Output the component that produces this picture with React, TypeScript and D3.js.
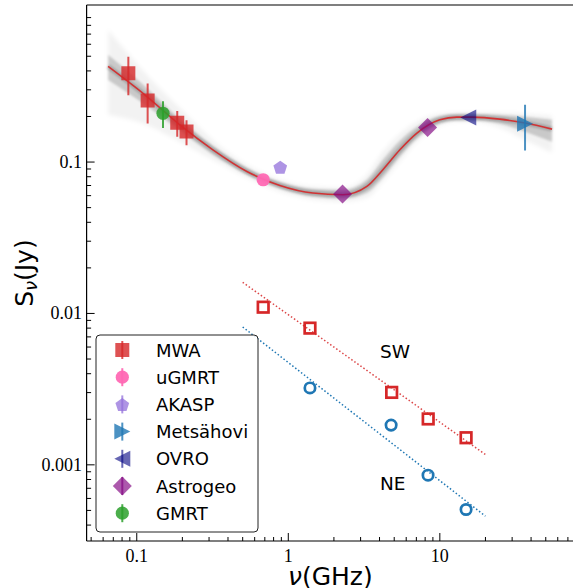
import React from "react";
import * as d3 from "d3";

// ---------- data ----------
const mwaFreq = [0.088, 0.118, 0.185, 0.213];
const mwaFlux = [0.386, 0.255, 0.182, 0.159];
const mwaErr = [0.11, 0.075, 0.035, 0.03];

const gmrtFreq = [0.149];
const gmrtFlux = [0.21];
const gmrtErr = [0.042];

const ugmrtFreq = [0.683];
const ugmrtFlux = [0.0764];

const akaspFreq = [0.885];
const akaspFlux = [0.0927];

const metsFreq = [36.5];
const metsFlux = [0.179];
const metsErr = [0.06];

const ovroFreq = [15.4];
const ovroFlux = [0.197];

const astroFreq = [2.28, 8.3];
const astroFlux = [0.0615, 0.169];

// model fit curve and posterior band
const bandFreq = [0.0647, 0.1166, 0.1925, 0.318, 0.533, 0.88, 1.453, 2.293, 3.3, 4.21, 5.45, 7.06, 10.0, 12.97, 16.5, 24.9, 36.5, 55.0];
const fitFlux = [0.428, 0.271, 0.176, 0.1205, 0.0867, 0.0701, 0.0624, 0.0608, 0.069, 0.089, 0.1205, 0.1553, 0.19, 0.198, 0.198, 0.192, 0.181, 0.165];
const outerHi = [0.747, 0.377, 0.228, 0.14, 0.096, 0.0764, 0.0687, 0.0677, 0.0825, 0.117, 0.1538, 0.1845, 0.2084, 0.2115, 0.2115, 0.2115, 0.2084, 0.202];
const outerLo = [0.205, 0.176, 0.136, 0.1035, 0.0788, 0.0637, 0.0564, 0.0547, 0.0581, 0.0741, 0.1005, 0.136, 0.1736, 0.1845, 0.1845, 0.1684, 0.14, 0.1152];
const innerHi = [0.511, 0.309, 0.193, 0.128, 0.0917, 0.0741, 0.0666, 0.0656, 0.0764, 0.1035, 0.1382, 0.171, 0.202, 0.2084, 0.2084, 0.205, 0.199, 0.19];
const innerLo = [0.349, 0.235, 0.161, 0.1117, 0.0825, 0.0666, 0.059, 0.0573, 0.0627, 0.0788, 0.1084, 0.1425, 0.179, 0.1874, 0.1874, 0.179, 0.1585, 0.136];

// components
const swFreq = [0.683, 1.39, 4.81, 8.38, 14.9];
const swFlux = [0.011, 0.008, 0.00301, 0.00201, 0.00151];
const neFreq = [1.39, 4.77, 8.36, 14.9];
const neFlux = [0.00322, 0.00183, 0.000854, 0.000507];
const fitLineFreq = [0.5, 20];
const swFitFlux = [0.01605, 0.001169];
const neFitFlux = [0.00814, 0.000458];

const xMajorTicks = [0.1, 1, 10];
const xTickLabels = ["0.1", "1", "10"];
const yMajorTicks = [0.1, 0.01, 0.001];
const yTickLabels = ["0.1", "0.01", "0.001"];

const legendLabels = ["MWA", "uGMRT", "AKASP", "Metsähovi", "OVRO", "Astrogeo", "GMRT"];

// ---------- layout ----------
const W = 573;
const H = 588;
const L = 86.6;
const R = 574;
const T = 5;
const B = 541;

const x = d3.scaleLog().domain([0.04667, 76.8]).range([L, R]);
const y = d3.scaleLog().domain([1.09, 0.000314]).range([T, B]);

const RED = "#d62728";
const BLUE = "#1f77b4";

type Shape = "square" | "circle" | "pentagon" | "tright" | "tleft" | "diamond";

function shapePath(shape: Shape): string {
  switch (shape) {
    case "square":
      return "M-7,-7L7,-7L7,7L-7,7Z";
    case "circle":
      return d3.symbol().type(d3.symbolCircle).size(Math.PI * 6.6 * 6.6)() as string;
    case "pentagon": {
      const r = 7.2;
      const pts = d3.range(5).map((i) => {
        const a = -Math.PI / 2 + (i * 2 * Math.PI) / 5;
        return [r * Math.cos(a), r * Math.sin(a) + 0.8];
      });
      return "M" + pts.map((p) => p.join(",")).join("L") + "Z";
    }
    case "tright":
      return "M-8,-8L8,0L-8,8Z";
    case "tleft":
      return "M8,-8L-8,0L8,8Z";
    case "diamond":
      return "M0,-9.5L9.5,0L0,9.5L-9.5,0Z";
  }
}

const legendStyles: { shape: Shape; fill: string; op: number }[] = [
  { shape: "square", fill: RED, op: 0.8 },
  { shape: "circle", fill: "#ff69b4", op: 0.95 },
  { shape: "pentagon", fill: "#9370db", op: 0.75 },
  { shape: "tright", fill: BLUE, op: 0.8 },
  { shape: "tleft", fill: "#000080", op: 0.6 },
  { shape: "diamond", fill: "#800080", op: 0.65 },
  { shape: "circle", fill: "#2ca02c", op: 0.85 },
];

function minorTicks(lo: number, hi: number): number[] {
  const out: number[] = [];
  for (let e = -5; e <= 3; e++) {
    for (let m = 2; m <= 9; m++) {
      const v = m * Math.pow(10, e);
      if (v > lo && v < hi) out.push(v);
    }
  }
  return out;
}

function Marker({ shape, fill, op, cx, cy }: { shape: Shape; fill: string; op: number; cx: number; cy: number }) {
  return <path d={shapePath(shape)} transform={`translate(${cx},${cy})`} fill={fill} fillOpacity={op} />;
}

function ErrBar({ cx, y0, y1, color, op }: { cx: number; y0: number; y1: number; color: string; op: number }) {
  return <line x1={cx} x2={cx} y1={y0} y2={y1} stroke={color} strokeOpacity={op} strokeWidth={2} />;
}

export default function App() {
  const xDom = x.domain();
  const yDom = y.domain();
  const xMinor = minorTicks(xDom[0], xDom[1]);
  const yMinor = minorTicks(yDom[1], yDom[0]);

  const area = (hi: number[], lo: number[]) =>
    d3
      .area<number>()
      .x((_, i) => x(bandFreq[i]))
      .y0((_, i) => y(lo[i]))
      .y1((_, i) => y(hi[i]))
      .curve(d3.curveMonotoneX)(bandFreq) as string;

  const fitLine = d3
    .line<number>()
    .x((_, i) => x(bandFreq[i]))
    .y((_, i) => y(fitFlux[i]))
    .curve(d3.curveMonotoneX)(bandFreq) as string;

  const straight = (fl: number[]) =>
    d3
      .line<number>()
      .x((_, i) => x(fitLineFreq[i]))
      .y((_, i) => y(fl[i]))(fitLineFreq) as string;

  const serif = "'Liberation Serif', 'Times New Roman', serif";
  const sans = "'DejaVu Sans', sans-serif";

  const legX = 96;
  const legY = 335;
  const legW = 162;
  const legH = 197;

  return (
    <svg width={W} height={H} style={{ position: "absolute", left: 0, top: 0 }} xmlns="http://www.w3.org/2000/svg">
      <rect x={0} y={0} width={W} height={H} fill="#fff" />
      <defs>
        <clipPath id="plotclip">
          <rect x={L} y={T} width={R - L} height={B - T} />
        </clipPath>
        <filter id="soft" x="-10%" y="-30%" width="120%" height="160%">
          <feGaussianBlur stdDeviation="2.2" />
        </filter>
        <filter id="soft2" x="-10%" y="-30%" width="120%" height="160%">
          <feGaussianBlur stdDeviation="1.2" />
        </filter>
      </defs>

      <g clipPath="url(#plotclip)">
        {/* posterior band */}
        <path d={area(outerHi, outerLo)} fill="#000" fillOpacity={0.05} filter="url(#soft)" />
        <path d={area(innerHi, innerLo)} fill="#000" fillOpacity={0.17} filter="url(#soft2)" />
        <path d={fitLine} fill="none" stroke="#000" strokeOpacity={0.18} strokeWidth={5} filter="url(#soft2)" />
        <path d={fitLine} fill="none" stroke={RED} strokeWidth={1.6} strokeOpacity={0.9} />

        {/* component fits */}
        <path d={straight(swFitFlux)} fill="none" stroke={RED} strokeOpacity={0.85} strokeWidth={1.5} strokeDasharray="1.5 2.2" />
        <path d={straight(neFitFlux)} fill="none" stroke={BLUE} strokeWidth={1.5} strokeDasharray="1.5 2.2" />

        {swFreq.map((f, i) => (
          <rect key={"sw" + i} x={x(f) - 5.3} y={y(swFlux[i]) - 5.3} width={10.6} height={10.6} fill="none" stroke={RED} strokeWidth={2.7} />
        ))}
        {neFreq.map((f, i) => (
          <circle key={"ne" + i} cx={x(f)} cy={y(neFlux[i])} r={5.2} fill="none" stroke={BLUE} strokeWidth={2.7} />
        ))}

        {/* data points */}
        {mwaFreq.map((f, i) => (
          <g key={"mwa" + i}>
            <Marker shape="square" fill={RED} op={0.8} cx={x(f)} cy={y(mwaFlux[i])} />
            <ErrBar cx={x(f)} y0={y(mwaFlux[i] + mwaErr[i])} y1={y(mwaFlux[i] - mwaErr[i])} color={RED} op={0.8} />
          </g>
        ))}
        {gmrtFreq.map((f, i) => (
          <g key={"gm" + i}>
            <Marker shape="circle" fill="#2ca02c" op={0.85} cx={x(f)} cy={y(gmrtFlux[i])} />
            <ErrBar cx={x(f)} y0={y(gmrtFlux[i] + gmrtErr[i])} y1={y(gmrtFlux[i] - gmrtErr[i])} color="#2ca02c" op={0.85} />
          </g>
        ))}
        {ugmrtFreq.map((f, i) => (
          <Marker key={"ug" + i} shape="circle" fill="#ff69b4" op={0.95} cx={x(f)} cy={y(ugmrtFlux[i])} />
        ))}
        {akaspFreq.map((f, i) => (
          <Marker key={"ak" + i} shape="pentagon" fill="#9370db" op={0.75} cx={x(f)} cy={y(akaspFlux[i])} />
        ))}
        {astroFreq.map((f, i) => (
          <Marker key={"as" + i} shape="diamond" fill="#800080" op={0.65} cx={x(f)} cy={y(astroFlux[i])} />
        ))}
        {ovroFreq.map((f, i) => (
          <Marker key={"ov" + i} shape="tleft" fill="#000080" op={0.6} cx={x(f)} cy={y(ovroFlux[i])} />
        ))}
        {metsFreq.map((f, i) => (
          <g key={"me" + i}>
            <Marker shape="tright" fill={BLUE} op={0.8} cx={x(f)} cy={y(metsFlux[i])} />
            <ErrBar cx={x(f)} y0={y(metsFlux[i] + metsErr[i])} y1={y(metsFlux[i] - metsErr[i])} color={BLUE} op={0.8} />
          </g>
        ))}
      </g>

      {/* labels SW / NE */}
      <text x={380} y={358} fontFamily={sans} fontSize={18.5} fill="#000">SW</text>
      <text x={380} y={490} fontFamily={sans} fontSize={18.5} fill="#000">NE</text>

      {/* legend */}
      <rect x={legX} y={legY} width={legW} height={legH} rx={4} ry={4} fill="#fff" fillOpacity={0.85} stroke="#222" strokeWidth={1} />
      {legendLabels.map((lab, i) => {
        const cy = 350 + i * 27.2;
        const s = legendStyles[i];
        return (
          <g key={"leg" + i}>
            <Marker shape={s.shape} fill={s.fill} op={s.op} cx={122.3} cy={cy} />
            <line x1={122.3} x2={122.3} y1={cy - 9} y2={cy + 9} stroke={s.fill} strokeOpacity={s.op} strokeWidth={2} />
            <text x={156} y={cy + 6.5} fontFamily={sans} fontSize={18} fill="#000">{lab}</text>
          </g>
        );
      })}

      {/* spines */}
      <line x1={L} x2={L} y1={T} y2={B} stroke="#000" strokeWidth={1.2} />
      <line x1={L} x2={R} y1={B} y2={B} stroke="#000" strokeWidth={1.2} />
      <line x1={L} x2={R} y1={T} y2={T} stroke="#000" strokeWidth={1.2} />

      {/* x ticks */}
      {xMajorTicks.map((t, i) => (
        <g key={"xt" + i}>
          <line x1={x(t)} x2={x(t)} y1={B} y2={B - 8} stroke="#000" strokeWidth={1} />
          <text x={x(t)} y={562} textAnchor="middle" fontFamily={serif} fontSize={18} fill="#000">{xTickLabels[i]}</text>
        </g>
      ))}
      {xMinor.map((t, i) => (
        <line key={"xm" + i} x1={x(t)} x2={x(t)} y1={B} y2={B - 4} stroke="#000" strokeWidth={1} />
      ))}

      {/* y ticks */}
      {yMajorTicks.map((t, i) => (
        <g key={"yt" + i}>
          <line x1={L} x2={L + 8} y1={y(t)} y2={y(t)} stroke="#000" strokeWidth={1} />
          <text x={82} y={y(t)} dy="0.33em" textAnchor="end" fontFamily={serif} fontSize={18} fill="#000">{yTickLabels[i]}</text>
        </g>
      ))}
      {yMinor.map((t, i) => (
        <line key={"ym" + i} x1={L} x2={L + 4.5} y1={y(t)} y2={y(t)} stroke="#000" strokeWidth={1} />
      ))}

      {/* axis labels */}
      <text x={(L + R) / 2} y={585} textAnchor="middle" fontFamily={sans} fontSize={25} fill="#000">
        <tspan fontStyle="italic">ν</tspan>(GHz)
      </text>
      <text transform={`translate(33,${(T + B) / 2}) rotate(-90)`} textAnchor="middle" fontFamily={sans} fontSize={25} fill="#000">
        S<tspan fontSize={17.5} fontStyle="italic" dy={4}>ν</tspan>
        <tspan dy={-4}>(Jy)</tspan>
      </text>
    </svg>
  );
}
